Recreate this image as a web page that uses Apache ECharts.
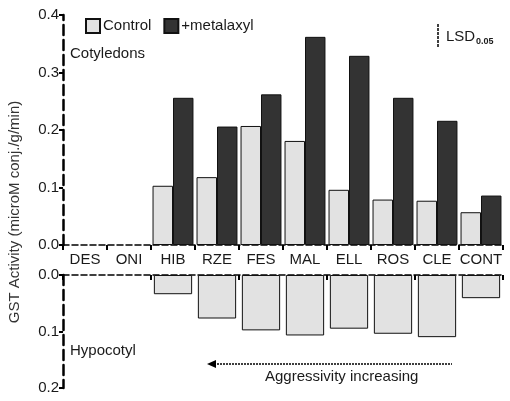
<!DOCTYPE html>
<html><head><meta charset="utf-8">
<script src="https://cdn.jsdelivr.net/npm/echarts@6/dist/echarts.min.js"></script>
<style>html,body{margin:0;padding:0;background:#fff}#c{width:510px;height:401px}</style>
</head><body><div id="c"></div>
<script>
const categories = ['DES','ONI','HIB','RZE','FES','MAL','ELL','ROS','CLE','CONT'];
const cotControl = [null, null, 0.103, 0.118, 0.207, 0.181, 0.096, 0.079, 0.077, 0.057];
const cotMetalaxyl = [null, null, 0.256, 0.206, 0.262, 0.362, 0.329, 0.256, 0.216, 0.086];
const hypControl = [null, null, 0.034, 0.077, 0.098, 0.107, 0.095, 0.104, 0.110, 0.041];
const topTicks = [0, 0.1, 0.2, 0.3, 0.4];
const bottomTicks = [0, 0.1, 0.2];

const font = 'Liberation Sans, Arial, sans-serif';
const txt = '#1a1a1a';
const chart = echarts.init(document.getElementById('c'));
chart.setOption({
  animation: false,
  backgroundColor: '#fff',
  textStyle: {fontFamily: font},
  legend: {
    data: ['Control', '+metalaxyl'],
    icon: 'rect',
    left: 80, top: 13, itemWidth: 14, itemHeight: 14, itemGap: 12,
    textStyle: {fontSize: 15, color: txt, fontFamily: font, padding: [0,0,0,-2]}
  },
  grid: [
    {left: 63, top: 15, width: 440, height: 230},
    {left: 63, top: 275, width: 440, height: 113}
  ],
  xAxis: [
    {type: 'category', gridIndex: 0, data: categories, position: 'bottom',
     axisLine: {lineStyle: {color: '#000', width: 1.5, type: 'dashed'}},
     axisTick: {show: true, length: 5, lineStyle: {color: '#000', width: 2}},
     axisLabel: {fontSize: 15, color: txt, margin: 7, fontFamily: font, interval: 0}},
    {type: 'category', gridIndex: 1, data: categories, position: 'top',
     axisLine: {lineStyle: {color: '#000', width: 1.5, type: 'dashed'}},
     axisTick: {show: true, length: 5, inside: true, lineStyle: {color: '#000', width: 2}},
     axisLabel: {show: false}}
  ],
  yAxis: [
    {type: 'value', gridIndex: 0, min: topTicks[0], max: topTicks[topTicks.length-1], interval: 0.1,
     splitLine: {show: false},
     axisLine: {show: true, lineStyle: {color: '#000', width: 2.5, type: 'dashed'}},
     axisTick: {show: true, length: 4, lineStyle: {color: '#000', width: 2}},
     axisLabel: {fontSize: 15, color: txt, margin: 4, formatter: v => v.toFixed(1)}},
    {type: 'value', gridIndex: 1, min: bottomTicks[0], max: bottomTicks[bottomTicks.length-1], interval: 0.1, inverse: true,
     splitLine: {show: false},
     axisLine: {show: true, lineStyle: {color: '#000', width: 2.5, type: 'dashed'}},
     axisTick: {show: true, length: 4, lineStyle: {color: '#000', width: 2}},
     axisLabel: {fontSize: 15, color: txt, margin: 4, formatter: v => v.toFixed(1)}}
  ],
  series: [
    {name: 'Control', type: 'bar', xAxisIndex: 0, yAxisIndex: 0, data: cotControl,
     barGap: '0%', barCategoryGap: '7%',
     itemStyle: {color: '#e2e2e2', borderColor: '#111', borderWidth: 1}},
    {name: '+metalaxyl', type: 'bar', xAxisIndex: 0, yAxisIndex: 0, data: cotMetalaxyl,
     barGap: '0%', barCategoryGap: '7%',
     itemStyle: {color: '#333333', borderColor: '#111', borderWidth: 1}},
    {name: 'Control', type: 'bar', xAxisIndex: 1, yAxisIndex: 1, data: hypControl,
     barCategoryGap: '13%',
     itemStyle: {color: '#e2e2e2', borderColor: '#111', borderWidth: 1}}
  ],
  graphic: [
    {type: 'text', x: 15, y: 212, rotation: Math.PI / 2,
     style: {text: 'GST Activity (microM conj./g/min)', fontSize: 15, fill: '#333', fontFamily: font,
             align: 'center', verticalAlign: 'middle'}},
    {type: 'text', left: 70, top: 46, style: {text: 'Cotyledons', fontSize: 15, fill: txt, fontFamily: font}},
    {type: 'text', left: 70, top: 343, style: {text: 'Hypocotyl', fontSize: 15, fill: txt, fontFamily: font}},
    {type: 'line', shape: {x1: 438, y1: 24, x2: 438, y2: 48}, style: {stroke: '#000', lineWidth: 1.5, lineDash: [3, 1]}},
    {type: 'text', left: 446, top: 29, style: {text: 'LSD', fontSize: 15, fill: txt, fontFamily: font}},
    {type: 'text', left: 476, top: 37, style: {text: '0.05', fontSize: 9, fill: txt, fontFamily: font, fontWeight: 'bold'}},
    {type: 'line', shape: {x1: 214, y1: 364, x2: 452, y2: 364}, style: {stroke: '#000', lineWidth: 1.5, lineDash: [2, 1]}},
    {type: 'polygon', shape: {points: [[207, 364], [216, 360], [216, 368]]}, style: {fill: '#000'}},
    {type: 'text', left: 265, top: 369, style: {text: 'Aggressivity increasing', fontSize: 15, fill: txt, fontFamily: font}}
  ]
});
</script></body></html>
